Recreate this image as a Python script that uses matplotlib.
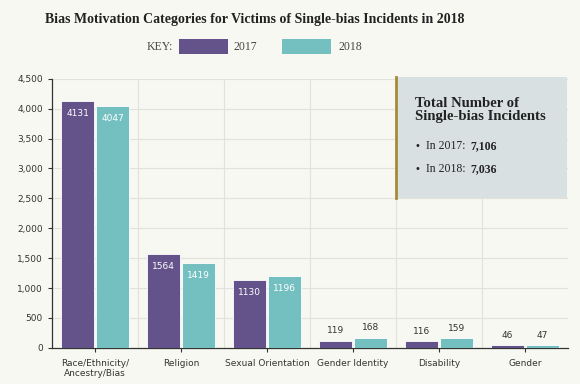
import matplotlib.pyplot as plt
import numpy as np
from matplotlib.patches import Rectangle

categories = ["Race/Ethnicity/\nAncestry/Bias", "Religion", "Sexual Orientation",
              "Gender Identity", "Disability", "Gender"]
v2017 = [4131, 1564, 1130, 119, 116, 46]
v2018 = [4047, 1419, 1196, 168, 159, 47]
yticks = [0, 500, 1000, 1500, 2000, 2500, 3000, 3500, 4000, 4500]

bg = "#f8f8f3"
purple = "#63538a"
teal = "#74bfc0"

W, H = 580, 384
def fx(px):
    return px / W
def fy(py):
    return 1 - py / H

fig = plt.figure(figsize=(5.8, 3.84), dpi=100, facecolor=bg)
ax = fig.add_axes([0.0897, 0.094, 0.8897, 0.701])
ax.set_facecolor(bg)

x = np.arange(len(categories))
w = 0.385
b1 = ax.bar(x - w/2 - 0.01, v2017, w, color=purple, edgecolor="white", linewidth=0.6, zorder=3)
b2 = ax.bar(x + w/2 + 0.01, v2018, w, color=teal, edgecolor="white", linewidth=0.6, zorder=3)

for bars, vals in ((b1, v2017), (b2, v2018)):
    for r, v in zip(bars, vals):
        cx = r.get_x() + r.get_width()/2
        if v > 1000:
            ax.text(cx, v - 130, str(v), ha="center", va="top", color="white",
                    fontsize=6.5, zorder=4)
        else:
            ax.text(cx, v + 90, str(v), ha="center", va="bottom", color="#333333",
                    fontsize=6.5, zorder=4)

ax.set_xlim(-0.5, len(categories) - 0.5)
ax.set_ylim(0, 4500)
ax.set_yticks(yticks)
ax.set_yticklabels([f"{t:,}" for t in yticks], fontsize=6.5, color="#333333")
ax.set_xticks(x)
ax.set_xticklabels(categories, fontsize=6.5, color="#333333")
ax.tick_params(axis="both", length=3, color="#333333", width=0.8)
ax.tick_params(axis="x", pad=5)

for t in yticks[1:]:
    ax.axhline(t, color="#e2e2dc", lw=0.8, zorder=0)
for b in x[:-1] + 0.5:
    ax.axvline(b, color="#e2e2dc", lw=0.8, zorder=0)

for s in ("top", "right"):
    ax.spines[s].set_visible(False)
for s in ("left", "bottom"):
    ax.spines[s].set_color("#333333")
    ax.spines[s].set_linewidth(0.9)

# totals box
box = Rectangle((fx(396), fy(198)), fx(171), 121/H, transform=fig.transFigure,
                facecolor="#d8e0e2", edgecolor="none", zorder=5)
fig.patches.append(box)
fig.add_artist(plt.Line2D([fx(396), fx(396)], [fy(198), fy(77)],
                          transform=fig.transFigure, color="#a8893a", lw=2, zorder=6))
fig.text(fx(415), fy(110), "Total Number of\nSingle-bias Incidents", fontsize=10.6,
         fontweight="bold", family="Liberation Serif", color="#222222",
         va="center", ha="left", linespacing=1.0, zorder=7)
for yy, lab, val in ((146, "In 2017: ", "7,106"), (169, "In 2018: ", "7,036")):
    fig.text(fx(414), fy(yy), "•", fontsize=7, family="DejaVu Sans",
             color="#222222", va="center", zorder=7)
    fig.text(fx(426), fy(yy), lab, fontsize=8.5, family="Liberation Serif",
             color="#222222", va="center", zorder=7)
    fig.text(fx(470), fy(yy), val, fontsize=8.5, family="Liberation Serif",
             fontweight="bold", color="#222222", va="center", zorder=7)

# title and key
fig.text(fx(255), fy(19), "Bias Motivation Categories for Victims of Single-bias Incidents in 2018",
         ha="center", va="center", fontsize=10, fontweight="bold",
         family="Liberation Serif", color="#222222")
fig.text(fx(147), fy(47), "KEY:", fontsize=8.5, family="Liberation Serif",
         color="#444444", va="center")
fig.patches.append(Rectangle((fx(179), fy(54)), fx(49), 15/H,
                             transform=fig.transFigure, facecolor=purple))
fig.text(fx(234), fy(47), "2017", fontsize=8.5, family="Liberation Serif",
         color="#444444", va="center")
fig.patches.append(Rectangle((fx(282), fy(54)), fx(49), 15/H,
                             transform=fig.transFigure, facecolor=teal))
fig.text(fx(338), fy(47), "2018", fontsize=8.5, family="Liberation Serif",
         color="#444444", va="center")

fig.savefig("out.png", dpi=100, facecolor=bg)
